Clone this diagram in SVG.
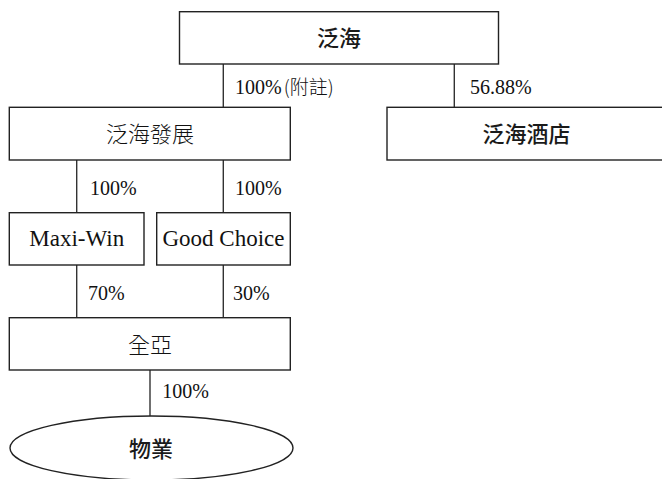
<svg xmlns="http://www.w3.org/2000/svg" width="662" height="479" viewBox="0 0 662 479">
<style>
.box{fill:#fff;stroke:#222;stroke-width:1.4}
.ln{stroke:#333;stroke-width:1.4;fill:none}
.cjkb{font-family:"Noto Sans CJK TC","Noto Sans CJK SC",sans-serif;font-size:22px;font-weight:500;fill:#1a1a1a;text-anchor:middle;dominant-baseline:central}
.cjkl{font-family:"Noto Sans CJK TC","Noto Sans CJK SC",sans-serif;font-size:22px;font-weight:300;fill:#111;text-anchor:middle;dominant-baseline:central}
.lat{font-family:"Liberation Serif","Times New Roman",serif;font-size:23px;fill:#111;text-anchor:middle}
.pct{font-family:"Liberation Serif","Times New Roman","Noto Sans CJK TC",serif;font-size:20px;fill:#111}
.pcj{font-family:"Noto Sans CJK TC","Noto Sans CJK SC",sans-serif;font-size:19px;font-weight:300}
</style>
<rect width="662" height="479" fill="#fff"/>
<g id="connectors">
<line class="ln" x1="223.3" y1="64" x2="223.3" y2="107.3"/>
<line class="ln" x1="454.3" y1="64" x2="454.3" y2="107.3"/>
<line class="ln" x1="76.7" y1="160" x2="76.7" y2="212.7"/>
<line class="ln" x1="223.3" y1="160" x2="223.3" y2="212.7"/>
<line class="ln" x1="76.7" y1="265" x2="76.7" y2="317.7"/>
<line class="ln" x1="223.3" y1="265" x2="223.3" y2="317.7"/>
<line class="ln" x1="150" y1="370" x2="150" y2="416"/>
<text class="pct" x="235" y="94">100%<tspan class="pcj" dx="2">(附註)</tspan></text>
<text class="pct" x="470" y="94">56.88%</text>
<text class="pct" x="90" y="195">100%</text>
<text class="pct" x="235" y="195">100%</text>
<text class="pct" x="88" y="300">70%</text>
<text class="pct" x="233" y="300">30%</text>
<text class="pct" x="162.3" y="398">100%</text>
</g>
<g id="n-fanhai">
<rect class="box" x="179.5" y="11.7" width="319" height="52.3"/>
<text class="cjkb" x="339" y="36">泛海</text>
</g>
<g id="n-fanhai-hotel">
<rect class="box" x="387" y="107.3" width="280" height="52.7"/>
<text class="cjkb" x="526.5" y="132">泛海酒店</text>
</g>
<g id="n-fanhai-dev">
<rect class="box" x="9.3" y="107.3" width="281" height="52.7"/>
<text class="cjkl" x="150" y="132">泛海發展</text>
</g>
<g id="n-maxiwin">
<rect class="box" x="9.3" y="212.7" width="134.7" height="52.3"/>
<text class="lat" x="76.7" y="246">Maxi-Win</text>
</g>
<g id="n-goodchoice">
<rect class="box" x="156.7" y="212.7" width="133.6" height="52.3"/>
<text class="lat" x="223.5" y="246">Good Choice</text>
</g>
<g id="n-quanya">
<rect class="box" x="9.3" y="317.7" width="281" height="52.3"/>
<text class="cjkl" x="150" y="343">全亞</text>
</g>
<g id="n-property">
<ellipse class="box" cx="151.5" cy="448" rx="141.5" ry="32"/>
<text class="cjkb" x="151" y="447">物業</text>
</g>
</svg>
